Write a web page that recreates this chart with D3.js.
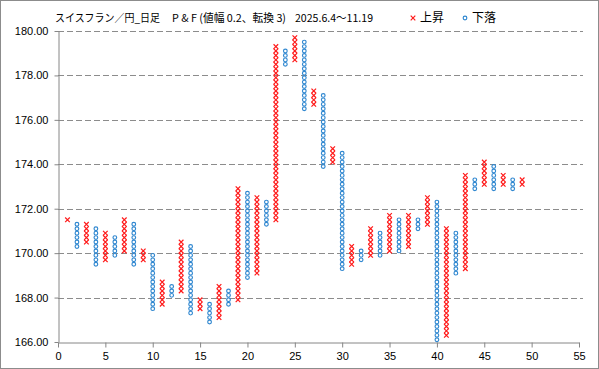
<!DOCTYPE html>
<html><head><meta charset="utf-8">
<script src="https://cdn.jsdelivr.net/npm/d3@7"></script>
<style>
html,body{margin:0;padding:0;background:#fff;}
svg{display:block;font-family:"Noto Sans CJK JP","Noto Sans",sans-serif;}
</style></head>
<body>
<svg id="c" width="599" height="369"></svg>
<script>
// P&F columns (box size 0.2, reversal 3)
const columnIndex = d3.range(1, 50);
const columnType = ["X","O","X","O","X","O","X","O","X","O","X","O","X","O","X","O","X","O","X","O","X","O","X","O","X","O","X","O","X","O","X","O","X","O","X","O","X","O","X","O","X","O","X","O","X","O","X","O","X"];
const columnHigh = [171.5,171.3,171.3,171.1,170.9,170.7,171.5,171.3,170.1,169.9,168.7,168.5,170.5,170.3,167.9,167.7,168.5,168.3,172.9,172.7,172.5,172.3,179.3,179.1,179.7,179.5,177.3,177.1,174.7,174.5,170.3,170.1,171.1,170.9,171.7,171.5,171.7,171.5,172.5,172.3,171.1,170.9,173.5,173.3,174.1,173.9,173.5,173.3,173.3];
const columnLow  = [171.5,170.3,170.5,169.5,169.7,169.9,170.1,169.5,169.7,167.5,167.7,168.1,168.3,167.3,167.5,166.9,167.1,167.7,167.9,168.9,169.1,171.3,171.5,178.5,178.7,176.5,176.7,173.9,174.1,169.3,169.5,169.7,169.9,169.9,170.1,170.1,170.3,171.1,171.3,166.1,166.3,169.1,169.3,172.9,173.1,172.9,173.1,172.9,173.1];
const boxSize = 0.2;
const xTicks = d3.range(0, 56, 5);
const yTicks = d3.range(166, 181, 2);
const titleParts = ["スイスフラン／円_日足", "P & F (値幅 0.2、転換 3)", "2025.6.4～11.19"];
const legendLabels = ["上昇", "下落"];

const svg = d3.select("#c");
const W = 599, H = 369;
const L = 58, R = 579, T = 31, B = 342;
const x = d3.scaleLinear().domain([0, 55]).range([L, R]);
const y = d3.scaleLinear().domain([166, 180]).range([B, T]);
const red = "#ff1a1a", blue = "#2f87d0", grid = "#8c8c8c";

svg.append("rect").attr("x",0.5).attr("y",0.5).attr("width",W-1).attr("height",H-1)
  .attr("fill","#fff").attr("stroke","#8c8c8c");

// gridlines
svg.append("g").selectAll("line").data(yTicks.filter(v=>v>166)).join("line")
  .attr("x1",L).attr("x2",R+4).attr("y1",d=>Math.round(y(d))+0.5).attr("y2",d=>Math.round(y(d))+0.5)
  .attr("stroke",grid).attr("stroke-width",1).attr("stroke-dasharray","6,3");

// axes
const xAxis = svg.append("g").attr("transform",`translate(0,${B+0.5})`)
  .call(d3.axisBottom(x).tickValues(xTicks).tickFormat(d3.format("d")).tickSize(5).tickSizeOuter(0).tickPadding(5));
const yAxis = svg.append("g").attr("transform",`translate(${L+0.5},0)`)
  .call(d3.axisLeft(y).tickValues(yTicks).tickFormat(d3.format(".2f")).tickSize(4).tickSizeOuter(0).tickPadding(6));
[xAxis,yAxis].forEach(g=>{
  g.selectAll("path,line").attr("stroke","#868686");
  g.selectAll("text").attr("fill","#000").style("font-size","11px")
   .style("font-family","'Liberation Sans','DejaVu Sans',sans-serif");
});

// boxes
const boxes = [];
columnIndex.forEach((c,i)=>{
  const n = Math.round((columnHigh[i]-columnLow[i])/boxSize)+1;
  for(let k=0;k<n;k++) boxes.push({col:c, type:columnType[i], v:columnLow[i]+k*boxSize});
});
const g = svg.append("g");
const s = 2.3;
boxes.filter(d=>d.type==="X").forEach(d=>{
  const cx = x(d.col), cy = y(d.v);
  g.append("path").attr("d",`M${cx-s},${cy-s}L${cx+s},${cy+s}M${cx-s},${cy+s}L${cx+s},${cy-s}`)
    .attr("stroke",red).attr("stroke-width",1.2).attr("fill","none");
});
g.selectAll("circle.o").data(boxes.filter(d=>d.type==="O")).join("circle")
  .attr("class","o").attr("cx",d=>x(d.col)).attr("cy",d=>y(d.v)).attr("r",1.85)
  .attr("fill","#fff").attr("stroke",blue).attr("stroke-width",1.15);

// title
const tt = svg.append("g").attr("font-size","11px").attr("fill","#000");
tt.append("text").attr("x",55).attr("y",22).attr("textLength",105).attr("lengthAdjust","spacingAndGlyphs").text(titleParts[0]);
tt.append("text").attr("x",172).attr("y",22).attr("textLength",114).attr("lengthAdjust","spacingAndGlyphs").text(titleParts[1]);
tt.append("text").attr("x",295).attr("y",22).attr("textLength",78).attr("lengthAdjust","spacingAndGlyphs").text(titleParts[2]);

// legend
const lg = svg.append("g");
const lx1 = 413, ly = 18;
lg.append("path").attr("d",`M${lx1-s},${ly-s}L${lx1+s},${ly+s}M${lx1-s},${ly+s}L${lx1+s},${ly-s}`)
  .attr("stroke",red).attr("stroke-width",1.2);
lg.append("text").attr("x",420).attr("y",22).attr("font-size","12px").text(legendLabels[0]);
lg.append("circle").attr("cx",465).attr("cy",ly).attr("r",1.85).attr("fill","#fff").attr("stroke",blue).attr("stroke-width",1.15);
lg.append("text").attr("x",472).attr("y",22).attr("font-size","12px").text(legendLabels[1]);
</script>
</body></html>
